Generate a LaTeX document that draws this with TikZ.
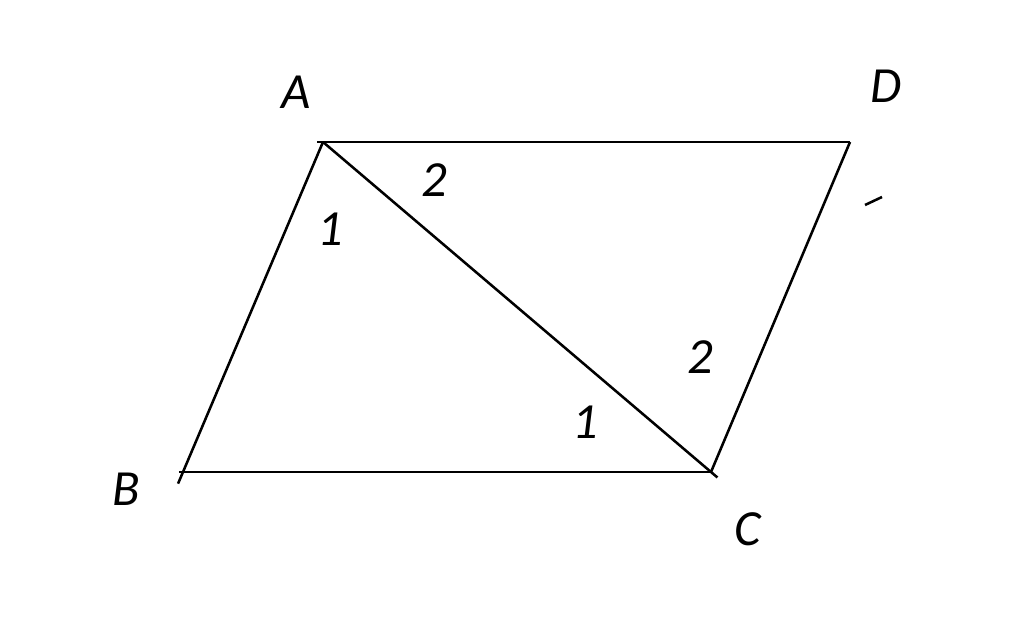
\documentclass[tikz,border=0pt]{standalone}
\usepackage{fontspec}
\setmainfont{Carlito}

\begin{document}
\begin{tikzpicture}[
    x=0.025cm, y=-0.025cm,
    side/.style={line width=1.8pt, black},
    vlabel/.style={font=\fontsize{36}{36}\selectfont\itshape, inner sep=0pt},
    alabel/.style={font=\fontsize{36}{36}\selectfont\itshape, inner sep=0pt}
]
    \useasboundingbox (0,0) rectangle (1024,628);

    % Vertices of the parallelogram
    \coordinate (A) at (323,142);
    \coordinate (D) at (850,142);
    \coordinate (B) at (183,472);
    \coordinate (C) at (711,472);

    % Sides and diagonal
    \draw[side, shorten <=-4pt] (A) -- (D);
    \draw[side, shorten >=-9pt] (A) -- (B);
    \draw[side, shorten <=-3pt] (B) -- (C);
    \draw[side] (D) -- (C);
    \draw[side, shorten >=-6pt] (A) -- (C);

    % Vertex labels
    \node[vlabel] (lA) at (296,92) {A};
    \node[vlabel] (lD) at (886,86) {D};
    \node[vlabel] (lB) at (126,489) {B};
    \node[vlabel] (lC) at (748,529) {C};

    % Angle labels
    \node[alabel] (a2) at (434,180) {2};
    \node[alabel] (a1) at (330,229) {1};
    \node[alabel] (c2) at (700,357) {2};
    \node[alabel] (c1) at (585,422) {1};

    % Stray stroke near D
    \draw[side] (865,205) -- (882,197);
\end{tikzpicture}
\end{document}
